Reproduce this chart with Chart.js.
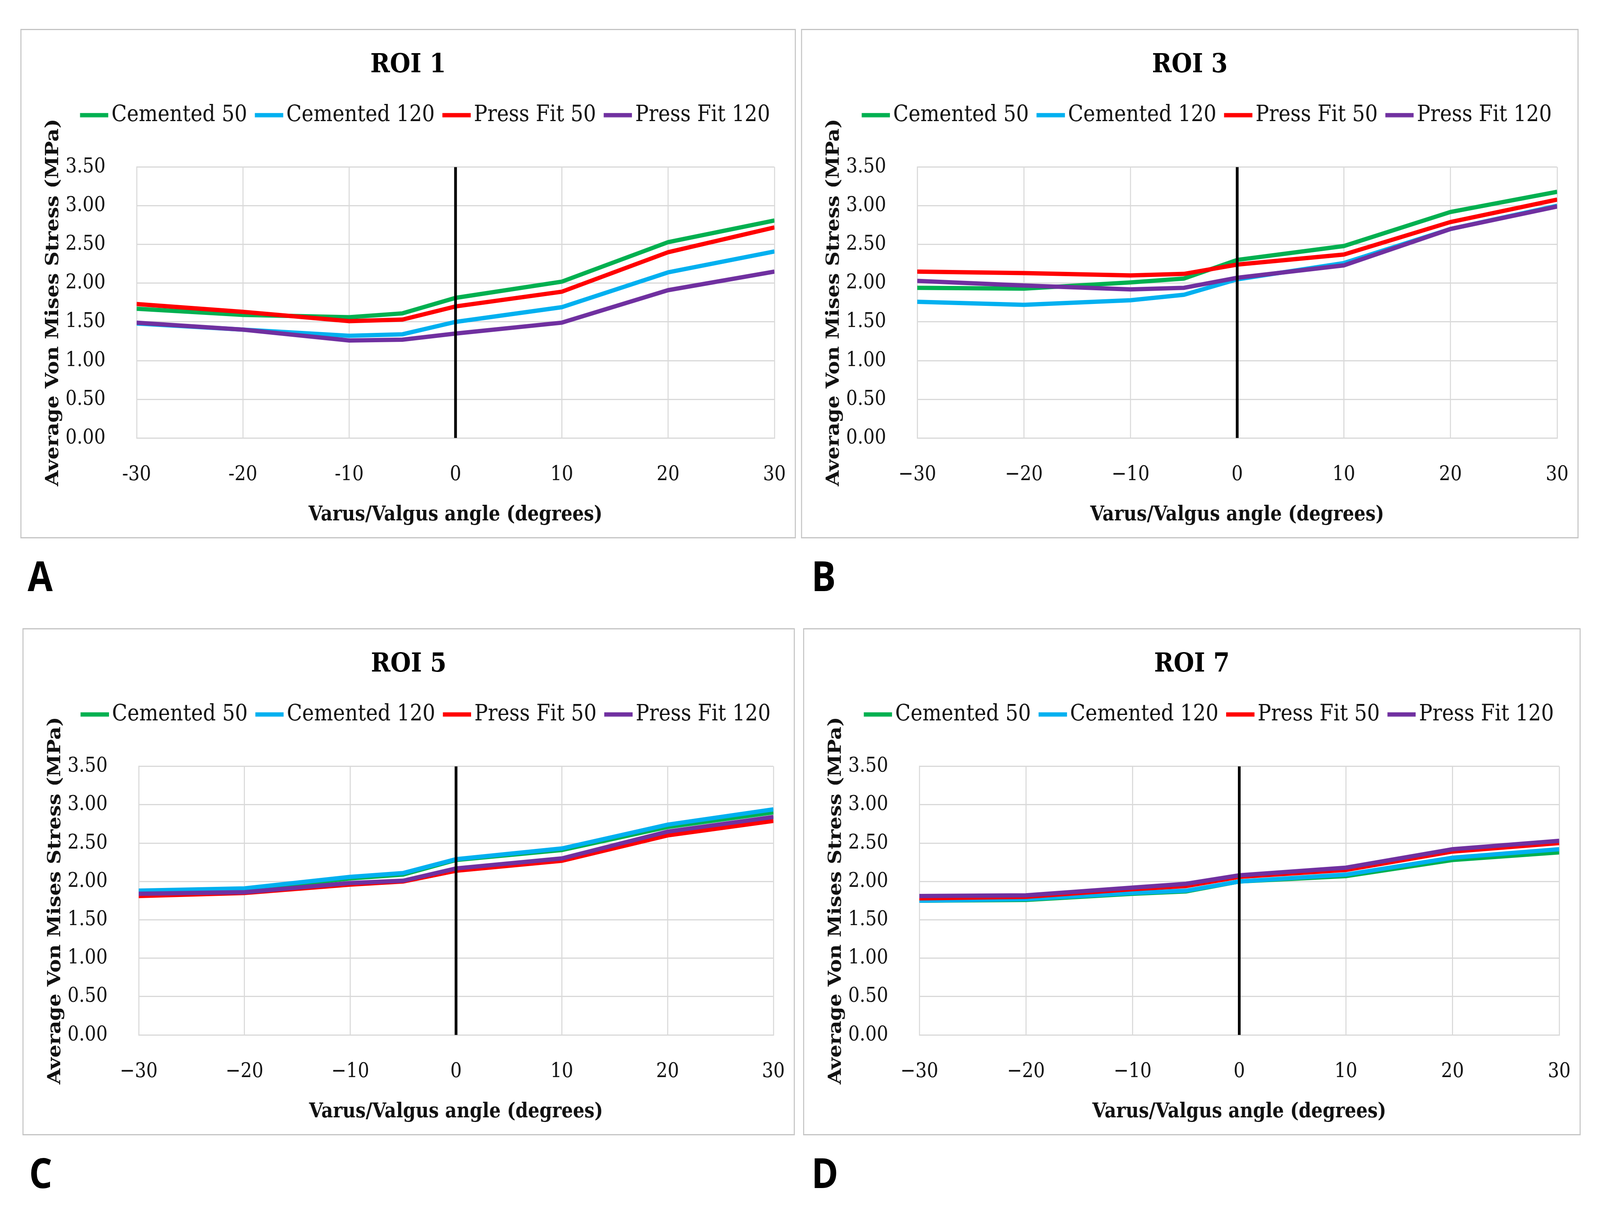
<!DOCTYPE html>
<html>
<head>
<meta charset="utf-8">
<title>Average Von Mises Stress per ROI</title>
<script src="https://cdn.jsdelivr.net/npm/chart.js@4.4.1/dist/chart.umd.min.js"></script>
<style>
  html, body { margin: 0; padding: 0; background: #fff; overflow: hidden; }
  #page { position: absolute; left: 0; top: 0; width: 4626px; height: 3110px; background: #fff; transform-origin: 0 0; }
  .panel { position: absolute; border: 3px solid #c4c4c4; box-sizing: border-box; background: #fff; }
  .panel canvas { display: block; }
  .letter { position: absolute; font-family: "Open Sans", "Liberation Sans", sans-serif; font-weight: 700;
            font-size: 105px; line-height: 105px; color: #000; }
</style>
</head>
<body>
<div id="page">
  <div class="panel" style="left:59px;top:74px;width:2242px;height:1304px"><canvas id="roi1"></canvas></div>
  <div class="panel" style="left:2316px;top:74px;width:2248px;height:1304px"><canvas id="roi3"></canvas></div>
  <div class="panel" style="left:65px;top:1608px;width:2233px;height:1298px"><canvas id="roi5"></canvas></div>
  <div class="panel" style="left:2322px;top:1608px;width:2248px;height:1298px"><canvas id="roi7"></canvas></div>
  <div class="letter" style="left:80px;top:1420px">A</div>
  <div class="letter" style="left:2346px;top:1420px">B</div>
  <div class="letter" style="left:84px;top:2948px">C</div>
  <div class="letter" style="left:2346px;top:2948px">D</div>
</div>
<script>
// varus/valgus angles (degrees)
var angles = [-30, -20, -10, -5, 0, 10, 20, 30];

var seriesNames = ["Cemented 50", "Cemented 120", "Press Fit 50", "Press Fit 120"];
var seriesColors = ["#00b050", "#00b0f0", "#ff0000", "#7030a0"];

// ROI 1
var roi1Cemented50 = [1.67, 1.59, 1.56, 1.61, 1.81, 2.02, 2.53, 2.81];
var roi1Cemented120 = [1.48, 1.40, 1.32, 1.34, 1.50, 1.69, 2.14, 2.41];
var roi1PressFit50 = [1.73, 1.63, 1.51, 1.53, 1.70, 1.89, 2.40, 2.72];
var roi1PressFit120 = [1.49, 1.40, 1.26, 1.27, 1.35, 1.49, 1.91, 2.15];

// ROI 3
var roi3Cemented50 = [1.94, 1.93, 2.01, 2.06, 2.30, 2.48, 2.92, 3.18];
var roi3Cemented120 = [1.76, 1.72, 1.78, 1.85, 2.05, 2.26, 2.70, 3.00];
var roi3PressFit50 = [2.15, 2.13, 2.10, 2.12, 2.24, 2.37, 2.79, 3.08];
var roi3PressFit120 = [2.03, 1.97, 1.92, 1.94, 2.07, 2.23, 2.70, 2.99];

// ROI 5
var roi5Cemented50 = [1.86, 1.89, 2.04, 2.09, 2.28, 2.41, 2.71, 2.90];
var roi5Cemented120 = [1.88, 1.91, 2.06, 2.11, 2.29, 2.43, 2.74, 2.94];
var roi5PressFit50 = [1.81, 1.85, 1.96, 2.00, 2.14, 2.27, 2.60, 2.79];
var roi5PressFit120 = [1.84, 1.86, 1.98, 2.01, 2.17, 2.30, 2.65, 2.84];

// ROI 7
var roi7Cemented50 = [1.75, 1.76, 1.84, 1.87, 2.00, 2.07, 2.28, 2.38];
var roi7Cemented120 = [1.75, 1.77, 1.85, 1.88, 2.00, 2.09, 2.31, 2.42];
var roi7PressFit50 = [1.78, 1.80, 1.90, 1.94, 2.06, 2.15, 2.39, 2.50];
var roi7PressFit120 = [1.81, 1.82, 1.92, 1.97, 2.08, 2.18, 2.42, 2.53];

// axes
var xMin = -30, xMax = 30, xStep = 10;
var yMin = 0, yMax = 3.5, yStep = 0.5;
var neutralAngle = 0; // black reference line

// fit the 4626x3110 figure into whatever the window really shows
(function () {
    var w = Math.min(window.innerWidth || 4626, 4096);
    var h = Math.min(window.innerHeight || 3110, 3110);
    document.getElementById("page").style.transform = "scale(" + (w / 4626) + "," + (h / 3110) + ")";
})();

Chart.defaults.font.family = "'DejaVu Serif', 'Liberation Serif', serif";
Chart.defaults.color = "#111";

// legend markers: short thick line that runs up close to the label text
var markerBox = 70;
function makeMarker(color) {
    var c = document.createElement("canvas");
    c.width = markerBox + 40;
    c.height = 12;
    var g = c.getContext("2d");
    g.fillStyle = color;
    g.fillRect(28, 0.5, c.width - 28, 11);
    return c;
}
var markers = seriesColors.map(makeMarker);

// extra room between legend and plot, legend nudged right like the original
var legendGap = {
    id: "legendGap",
    afterInit(chart) {
        var legend = chart.legend;
        if (!legend) return;
        var fit = legend.fit;
        legend.fit = function () {
            fit.call(this);
            this.height += 94;
        };
    },
    afterLayout(chart) {
        if (!chart.legend) return;
        chart.legend.left += 45;
        chart.legend.right += 45;
    }
};

function makeChart(id, title, values, niceMinus) {
    var ctx = document.getElementById(id).getContext("2d");

    var datasets = values.map(function (vals, s) {
        return {
            label: seriesNames[s],
            data: angles.map(function (a, i) { return { x: a, y: vals[i] }; }),
            borderColor: seriesColors[s],
            backgroundColor: seriesColors[s],
            borderWidth: 11,
            pointRadius: 0,
            tension: 0,
            order: 4 - s
        };
    });

    datasets.push({
        label: "zero",
        data: [{ x: neutralAngle, y: yMin }, { x: neutralAngle, y: yMax }],
        borderColor: "#000",
        borderWidth: 8,
        pointRadius: 0,
        order: 0
    });

    return new Chart(ctx, {
        type: "line",
        data: { datasets: datasets },
        plugins: [legendGap],
        options: {
            responsive: true,
            maintainAspectRatio: false,
            animation: false,
            layout: { padding: { left: 59, right: 59, top: 0, bottom: 0 } },
            plugins: {
                tooltip: { enabled: false },
                title: {
                    display: true,
                    text: title,
                    color: "#000",
                    font: { size: 68, weight: "bold" },
                    padding: { top: 50, bottom: 43 }
                },
                legend: {
                    position: "top",
                    labels: {
                        usePointStyle: true,
                        pointStyleWidth: markerBox,
                        padding: 14,
                        color: "#111",
                        font: { size: 58 },
                        generateLabels: function (chart) {
                            var items = Chart.defaults.plugins.legend.labels.generateLabels(chart);
                            items.forEach(function (it) {
                                if (it.datasetIndex < 4) it.pointStyle = markers[it.datasetIndex];
                            });
                            return items;
                        },
                        filter: function (item) { return item.datasetIndex < 4; },
                        sort: function (a, b) { return a.datasetIndex - b.datasetIndex; }
                    }
                }
            },
            scales: {
                x: {
                    type: "linear",
                    min: xMin,
                    max: xMax,
                    ticks: {
                        stepSize: xStep,
                        padding: 63,
                        font: { size: 52 },
                        color: "#111",
                        callback: function (v) {
                            var s = String(v);
                            return niceMinus ? s.replace("-", "\u2212") : s;
                        }
                    },
                    grid: { color: "#d9d9d9", lineWidth: 3, drawTicks: false },
                    border: { color: "#d9d9d9", width: 3 },
                    title: {
                        display: true,
                        text: "Varus/Valgus angle (degrees)",
                        color: "#111",
                        font: { size: 52, weight: "bold" },
                        padding: { top: -22, bottom: 25 }
                    },
                    afterFit: function (scale) {
                        scale.paddingLeft = 0;
                        scale.paddingRight = 0;
                    }
                },
                y: {
                    min: yMin,
                    max: yMax,
                    ticks: {
                        stepSize: yStep,
                        padding: 90,
                        font: { size: 52 },
                        color: "#111",
                        callback: function (v) { return v.toFixed(2); }
                    },
                    grid: { color: "#d9d9d9", lineWidth: 3, drawTicks: false },
                    border: { color: "#d9d9d9", width: 3 },
                    title: {
                        display: true,
                        text: "Average Von Mises Stress (MPa)",
                        color: "#111",
                        font: { size: 52, weight: "bold" },
                        padding: { top: 2, bottom: 0 }
                    },
                    afterFit: function (scale) { scale.width = 274; }
                }
            }
        }
    });
}

makeChart("roi1", "ROI 1", [roi1Cemented50, roi1Cemented120, roi1PressFit50, roi1PressFit120], false);
makeChart("roi3", "ROI 3", [roi3Cemented50, roi3Cemented120, roi3PressFit50, roi3PressFit120], true);
makeChart("roi5", "ROI 5", [roi5Cemented50, roi5Cemented120, roi5PressFit50, roi5PressFit120], true);
makeChart("roi7", "ROI 7", [roi7Cemented50, roi7Cemented120, roi7PressFit50, roi7PressFit120], true);
</script>
</body>
</html>
